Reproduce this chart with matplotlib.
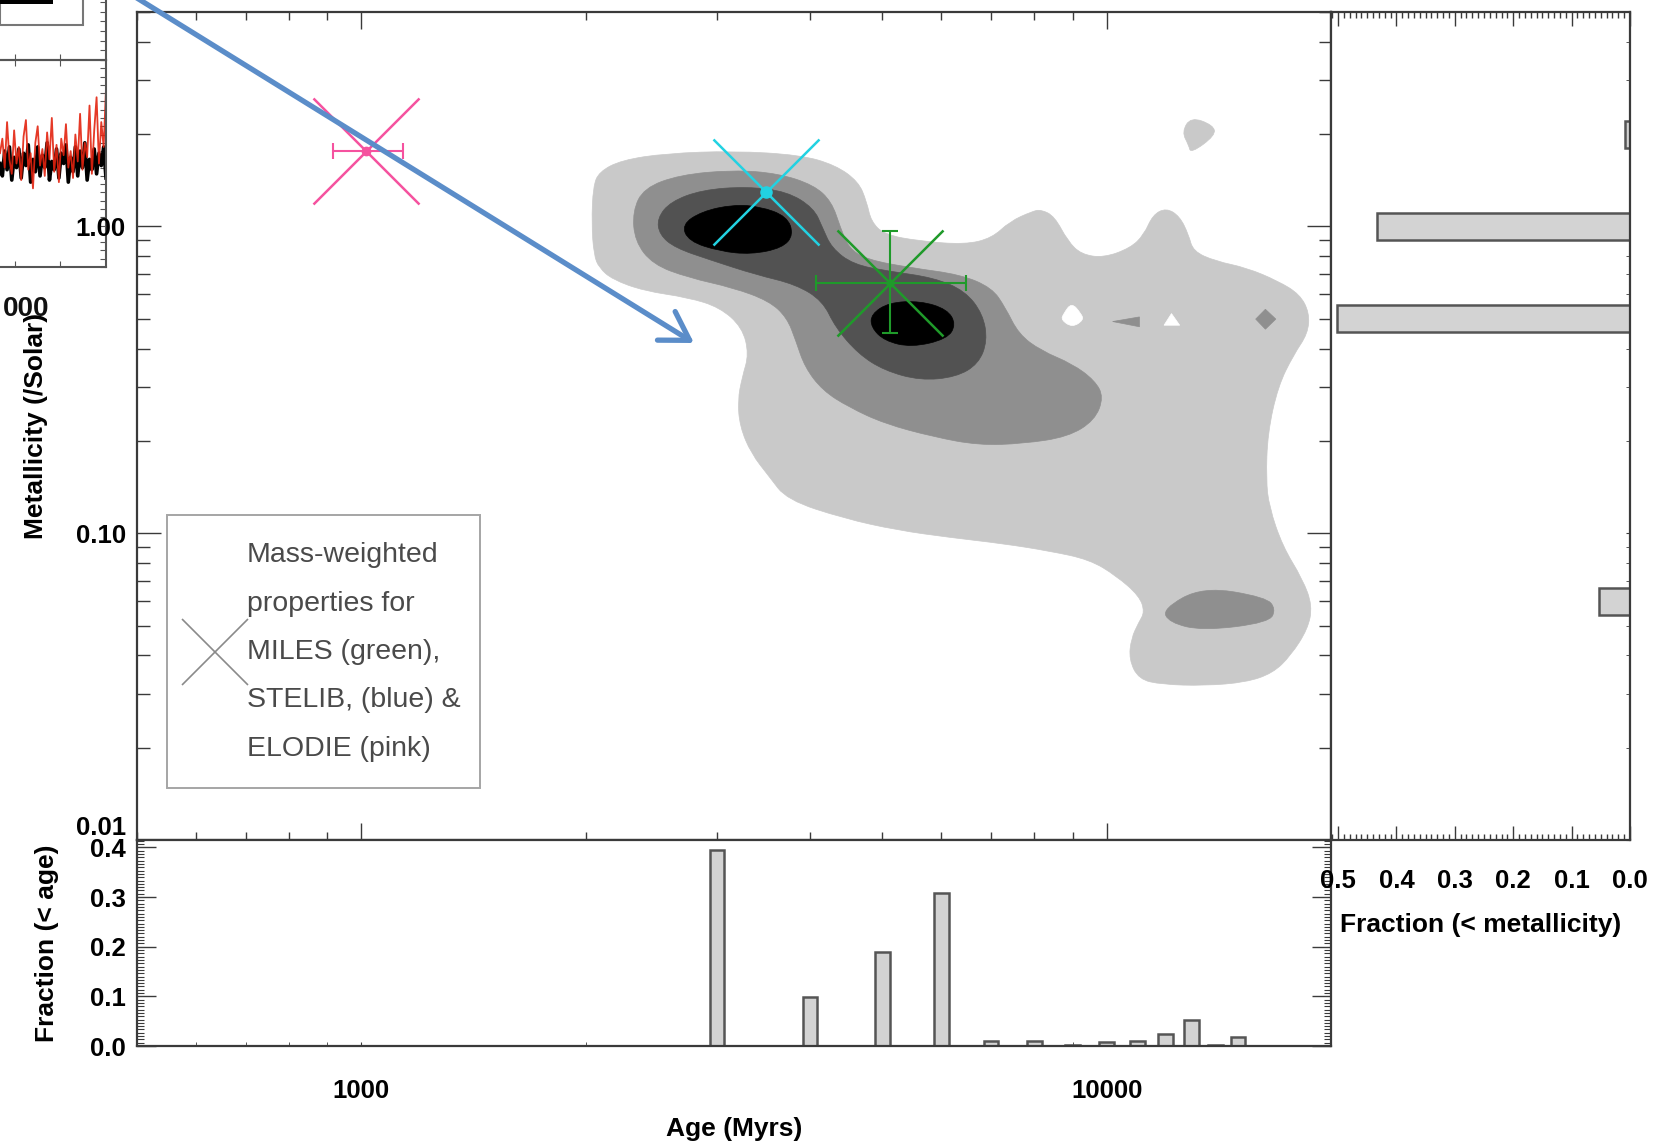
import numpy as np
import matplotlib.pyplot as plt
from matplotlib.patches import Rectangle, FancyArrowPatch, PathPatch
from matplotlib.path import Path
from matplotlib.lines import Line2D
from matplotlib.ticker import (FixedLocator, FuncFormatter, LogLocator,
                               MultipleLocator, NullFormatter)

plt.rcParams['font.family'] = ['Liberation Sans', 'DejaVu Sans']
plt.rcParams['font.weight'] = 'bold'
plt.rcParams['axes.labelweight'] = 'bold'

# ---------------- data ----------------
# age distribution (bottom panel)
age_bins = [3000, 4000, 5000, 6000, 7000, 8000, 9000, 10000, 11000, 12000, 13000, 14000, 15000]
age_frac = [0.395, 0.099, 0.189, 0.308, 0.010, 0.010, 0.002, 0.008, 0.010, 0.024, 0.052, 0.002, 0.018]

# metallicity distribution (right panel)
met_bins = [2.0, 1.0, 0.5, 0.06]
met_frac = [0.009, 0.434, 0.501, 0.053]

# mass-weighted properties per library
elodie_age, elodie_z = 1016, 1.765
elodie_age_err = [[100], [123]]
stelib_age, stelib_z = 3494, 1.297
miles_age, miles_z = 5123, 0.655
miles_age_err = [[1054], [1353]]
miles_z_err = [[0.205], [0.309]]

# density contours, (log10 age, log10 Z/Zsun) outlines
light_outer = [
    (3.311, 0.130), (3.319, 0.178), (3.349, 0.216), (3.409, 0.238), (3.499, 0.246),
    (3.589, 0.233), (3.636, 0.200), (3.667, 0.146), (3.678, 0.081), (3.684, 0.016),
    (3.702, -0.027), (3.750, -0.048), (3.810, -0.059), (3.846, -0.038), (3.870, 0.016),
    (3.900, 0.049), (3.912, 0.055), (3.930, 0.033), (3.948, -0.048), (3.966, -0.091),
    (3.996, -0.102), (4.032, -0.070), (4.050, -0.027), (4.062, 0.038), (4.080, 0.060),
    (4.098, 0.033), (4.110, -0.027), (4.116, -0.081), (4.146, -0.113), (4.188, -0.135),
    (4.230, -0.178), (4.259, -0.221), (4.272, -0.281), (4.270, -0.349), (4.251, -0.418),
    (4.230, -0.521), (4.216, -0.675), (4.214, -0.825), (4.218, -0.913), (4.236, -1.042),
    (4.263, -1.150), (4.276, -1.236), (4.270, -1.312), (4.247, -1.399), (4.223, -1.456),
    (4.187, -1.486), (4.131, -1.497), (4.074, -1.493), (4.043, -1.476), (4.030, -1.411),
    (4.033, -1.343), (4.043, -1.291), (4.051, -1.257), (4.044, -1.205), (4.013, -1.139),
    (3.977, -1.086), (3.923, -1.058), (3.861, -1.034), (3.790, -1.014), (3.719, -0.990),
    (3.648, -0.952), (3.571, -0.891), (3.547, -0.815), (3.523, -0.740), (3.508, -0.653),
    (3.505, -0.567), (3.511, -0.491), (3.520, -0.416), (3.511, -0.329), (3.481, -0.264),
    (3.439, -0.232), (3.379, -0.210), (3.337, -0.173), (3.319, -0.135), (3.312, -0.093),
    (3.309, 0.010),
]
light_island = [(4.113, 0.357), (4.143, 0.330), (4.146, 0.297), (4.113, 0.238),
                (4.110, 0.265), (4.101, 0.308)]
white_drop = [(3.953, -0.248), (3.966, -0.285), (3.969, -0.305), (3.954, -0.329),
              (3.939, -0.305), (3.942, -0.285)]
white_tri = [(4.087, -0.284), (4.098, -0.322), (4.077, -0.322)]
mid_level = [
    (3.364, 0.049), (3.379, 0.125), (3.427, 0.168), (3.499, 0.184), (3.559, 0.173),
    (3.607, 0.135), (3.631, 0.081), (3.643, -0.005), (3.654, -0.070), (3.678, -0.108),
    (3.738, -0.135), (3.804, -0.157), (3.846, -0.200), (3.864, -0.264), (3.882, -0.351),
    (3.912, -0.405), (3.954, -0.448), (3.984, -0.502), (3.996, -0.556), (3.984, -0.632),
    (3.948, -0.686), (3.888, -0.708), (3.828, -0.713), (3.768, -0.686), (3.702, -0.643),
    (3.654, -0.589), (3.619, -0.535), (3.595, -0.459), (3.583, -0.373), (3.571, -0.297),
    (3.547, -0.243), (3.499, -0.200), (3.439, -0.167), (3.391, -0.124), (3.367, -0.048),
]
mid_island = [(4.075, -1.247), (4.129, -1.174), (4.214, -1.209), (4.227, -1.247),
              (4.218, -1.291), (4.129, -1.318), (4.084, -1.291)]
mid_triangle = [(4.008, -0.310), (4.044, -0.295), (4.044, -0.327)]
mid_diamond = [(4.213, -0.270), (4.227, -0.302), (4.213, -0.335), (4.200, -0.302)]
dark_level = [
    (3.397, 0.027), (3.415, 0.081), (3.457, 0.119), (3.517, 0.130), (3.571, 0.114),
    (3.607, 0.060), (3.619, -0.005), (3.631, -0.070), (3.660, -0.124), (3.708, -0.146),
    (3.768, -0.167), (3.810, -0.210), (3.834, -0.286), (3.840, -0.373), (3.828, -0.448),
    (3.798, -0.491), (3.750, -0.502), (3.702, -0.470), (3.667, -0.416), (3.636, -0.329),
    (3.619, -0.243), (3.583, -0.189), (3.529, -0.157), (3.469, -0.110), (3.421, -0.070),
    (3.400, -0.027),
]
peak_a = [(3.430, 0.006), (3.457, 0.049), (3.499, 0.071), (3.535, 0.065), (3.571, 0.033),
          (3.580, -0.027), (3.565, -0.070), (3.523, -0.091), (3.481, -0.081), (3.439, -0.048)]
peak_b = [(3.684, -0.286), (3.708, -0.248), (3.750, -0.243), (3.786, -0.270), (3.798, -0.319),
          (3.786, -0.367), (3.738, -0.394), (3.702, -0.373), (3.684, -0.329)]

# spectrum fragment of the neighbouring slide figure (top left)
red_flux = [0.55, 0.62, 0.48, 0.70, 0.52, 0.45, 0.66, 0.50, 0.58, 0.42, 0.63, 0.71, 0.47, 0.55,
            0.38, 0.60, 0.68, 0.49, 0.57, 0.44, 0.65, 0.52, 0.72, 0.46, 0.59, 0.41, 0.62, 0.54,
            0.69, 0.48, 0.56, 0.43, 0.64, 0.51, 0.74, 0.47, 0.60, 0.53, 0.78, 0.45, 0.66, 0.82,
            0.50, 0.70, 0.58, 0.86]
black_flux = [0.50, 0.44, 0.56, 0.47, 0.58, 0.42, 0.53, 0.48, 0.57, 0.43, 0.55, 0.49, 0.59, 0.41,
              0.52, 0.46, 0.58, 0.44, 0.54, 0.48, 0.60, 0.42, 0.51, 0.47, 0.57, 0.43, 0.55, 0.50,
              0.59, 0.41, 0.53, 0.46, 0.58, 0.44, 0.56, 0.48, 0.60, 0.42, 0.52, 0.47, 0.57, 0.45,
              0.55, 0.49, 0.58, 0.43]

legend_text = "Mass-weighted\nproperties for\nMILES (green),\nSTELIB, (blue) &\nELODIE (pink)"

PINK = '#f5529f'
CYAN = '#22d2e2'
GREEN = '#1f9a2a'
SPINE = '#3a3a3a'


def smooth_outline(poly, color):
    # closed outline drawn with quadratic curves through the edge midpoints
    p = np.array(poly)
    mids = (p + np.roll(p, -1, axis=0)) / 2
    verts = [mids[-1]]
    codes = [Path.MOVETO]
    for i in range(len(p)):
        verts += [p[i], mids[i]]
        codes += [Path.CURVE3, Path.CURVE3]
    verts = 10 ** np.array(verts)
    return PathPatch(Path(verts, codes), facecolor=color, edgecolor=color, lw=0.5, zorder=1)


# ---------------- layout ----------------
W, H = 1657, 1148
fig = plt.figure(figsize=(W / 100, H / 100), dpi=100)
x0, x1, x2 = 137 / W, 1331 / W, 1630 / W
ytop, ymid, ybot = 1 - 12 / H, 1 - 840 / H, 1 - 1046 / H

ax = fig.add_axes([x0, ymid, x1 - x0, ytop - ymid])
axb = fig.add_axes([x0, ybot, x1 - x0, ymid - ybot])
axr = fig.add_axes([x1, ymid, x2 - x1, ytop - ymid])

for a in (ax, axb, axr):
    for s in a.spines.values():
        s.set_color(SPINE)
        s.set_linewidth(1.6)

# ---------------- main panel ----------------
ax.set_xscale('log')
ax.set_yscale('log')
ax.set_xlim(500, 20000)
ax.set_ylim(0.01, 5)

smooth_fills = [(light_outer, '#c9c9c9'), (light_island, '#c9c9c9'),
                (white_drop, 'white'), (mid_level, '#8f8f8f'), (mid_island, '#8f8f8f'),
                (dark_level, '#525252'), (peak_a, 'black'), (peak_b, 'black')]
for poly, col in smooth_fills:
    ax.add_patch(smooth_outline(poly, col))
for poly, col in [(white_tri, 'white'), (mid_triangle, '#8f8f8f'), (mid_diamond, '#8f8f8f')]:
    p = np.array(poly)
    ax.fill(10 ** p[:, 0], 10 ** p[:, 1], color=col, lw=0.5, zorder=1)

# ELODIE
ax.errorbar(elodie_age, elodie_z, xerr=elodie_age_err, fmt='none', ecolor=PINK,
            elinewidth=1.5, capsize=5.5, capthick=1.5, zorder=3)
ax.plot(elodie_age, elodie_z, ls='none', marker='x', ms=76, mew=1.8, color=PINK, zorder=3)
ax.plot(elodie_age, elodie_z, ls='none', marker='o', ms=6, color=PINK, zorder=3)
# STELIB
ax.plot(stelib_age, stelib_z, ls='none', marker='x', ms=76, mew=1.8, color=CYAN, zorder=3)
ax.plot(stelib_age, stelib_z, ls='none', marker='o', ms=8, color=CYAN, zorder=3)
# MILES
ax.errorbar(miles_age, miles_z, xerr=miles_age_err, yerr=miles_z_err, fmt='none',
            ecolor=GREEN, elinewidth=1.5, capsize=6, capthick=1.5, zorder=3)
ax.plot(miles_age, miles_z, ls='none', marker='x', ms=76, mew=1.8, color=GREEN, zorder=3)
ax.plot(miles_age, miles_z, ls='none', marker='o', ms=5, color=GREEN, zorder=3)

# legend box
ax.add_patch(Rectangle((0.0251, 0.0628), 0.2622, 0.3297, transform=ax.transAxes,
                       fill=False, edgecolor='#a5a5a5', lw=1.4, zorder=4))
ax.add_line(Line2D([0.0657], [0.2271], transform=ax.transAxes, ls='none', marker='x',
                   ms=47, mew=1.2, color='#8a8a8a', zorder=4))
ax.text(0.0921, 0.2271, legend_text, transform=ax.transAxes, ha='left', va='center',
        fontsize=20.5, fontweight='normal', color='#4a4a4a', linespacing=2.12, zorder=4)

ax.xaxis.set_major_locator(FixedLocator([1000, 10000]))
ax.xaxis.set_minor_locator(LogLocator(base=10, subs=np.arange(2, 10), numticks=20))
ax.xaxis.set_minor_formatter(NullFormatter())
ax.tick_params(axis='x', which='both', direction='in', top=True, bottom=True,
               labelbottom=False, color=SPINE, width=1)
ax.tick_params(axis='x', which='major', length=12)
ax.tick_params(axis='x', which='minor', length=6)
ax.yaxis.set_major_locator(FixedLocator([0.01, 0.1, 1.0]))
ax.yaxis.set_major_formatter(FuncFormatter(lambda v, p: '%.2f' % v))
ax.yaxis.set_minor_locator(LogLocator(base=10, subs=np.arange(2, 10), numticks=20))
ax.yaxis.set_minor_formatter(NullFormatter())
ax.tick_params(axis='y', which='both', direction='in', left=True, right=True,
               color=SPINE, width=1)
ax.tick_params(axis='y', which='major', length=17, pad=8, labelsize=18.5)
ax.tick_params(axis='y', which='minor', length=9)
ax.yaxis.get_major_ticks()[0].label1.set_va('bottom')
ax.set_ylabel('Metallicity (/Solar)', fontsize=19, labelpad=20)

# ---------------- bottom panel: age fractions ----------------
axb.set_xscale('log')
axb.set_xlim(500, 20000)
axb.set_ylim(0, 0.415)
bw = 0.0195  # bar width in dex
ab = np.array(age_bins, dtype=float)
lo = ab * 10 ** (-bw / 2)
hi = ab * 10 ** (bw / 2)
axb.bar(lo, age_frac, width=hi - lo, align='edge', color='#d3d3d3',
        edgecolor='#555555', linewidth=1.8, zorder=2)
axb.xaxis.set_major_locator(FixedLocator([1000, 10000]))
axb.xaxis.set_major_formatter(FuncFormatter(lambda v, p: '%d' % v))
axb.xaxis.set_minor_locator(LogLocator(base=10, subs=np.arange(2, 10), numticks=20))
axb.xaxis.set_minor_formatter(NullFormatter())
axb.tick_params(axis='x', which='both', direction='in', top=False, bottom=True,
                length=3, pad=24, labelsize=18.5, color=SPINE)
axb.yaxis.set_major_locator(MultipleLocator(0.1))
axb.yaxis.set_major_formatter(FuncFormatter(lambda v, p: '%.1f' % v))
axb.yaxis.set_minor_locator(MultipleLocator(0.1 / 15))
axb.tick_params(axis='y', which='both', direction='in', left=True, right=True, color=SPINE)
axb.tick_params(axis='y', which='major', length=14, width=1, pad=8, labelsize=18.5)
axb.tick_params(axis='y', which='minor', length=5, width=0.8)
axb.yaxis.get_major_ticks()[0].label1.set_va('bottom')
axb.set_xlabel('Age (Myrs)', fontsize=19, labelpad=10)
axb.set_ylabel('Fraction (< age)', fontsize=19, labelpad=22)

# ---------------- right panel: metallicity fractions ----------------
axr.set_yscale('log')
axr.set_ylim(0.01, 5)
axr.set_xlim(0.512, 0.0)
bh = 0.0875  # bar thickness in dex
mb = np.array(met_bins)
zlo = mb * 10 ** (-bh / 2)
zhi = mb * 10 ** (bh / 2)
axr.barh(zlo, met_frac, height=zhi - zlo, align='edge', color='#d3d3d3',
         edgecolor='#555555', linewidth=1.8, zorder=2)
axr.xaxis.set_major_locator(MultipleLocator(0.1))
axr.xaxis.set_major_formatter(FuncFormatter(lambda v, p: '%.1f' % abs(v)))
axr.xaxis.set_minor_locator(MultipleLocator(0.01))
axr.tick_params(axis='x', which='both', direction='in', top=True, bottom=True,
                color=SPINE, width=1)
axr.tick_params(axis='x', which='major', length=10, pad=21, labelsize=18.5)
axr.tick_params(axis='x', which='minor', length=4)
axr.yaxis.set_major_locator(FixedLocator([0.01, 0.1, 1.0]))
axr.yaxis.set_minor_locator(LogLocator(base=10, subs=np.arange(2, 10), numticks=20))
axr.yaxis.set_minor_formatter(NullFormatter())
axr.tick_params(axis='y', which='both', direction='in', left=False, right=True,
                labelleft=False, length=3, color=SPINE)
axr.set_xlabel('Fraction (< metallicity)', fontsize=19, labelpad=14)

# ---------------- fragment of the neighbouring figure ----------------
fa = fig.add_axes([0.0, 1 - 267 / H, 106 / W, 207 / H], zorder=-1)
fa.plot(np.arange(len(black_flux)), black_flux, color='black', lw=2.6)
fa.plot(np.arange(len(red_flux)), red_flux, color='#e3230f', lw=1.3, alpha=0.9)
fa.set_xlim(0, len(red_flux) - 1)
fa.set_ylim(0, 1)
fa.spines['left'].set_visible(False)
for s in ('top', 'right', 'bottom'):
    fa.spines[s].set_color('#555555')
    fa.spines[s].set_linewidth(1.5)
fa.set_xticks([6.4, 25.5])
fa.yaxis.set_major_locator(MultipleLocator(0.04))
fa.tick_params(which='both', direction='in', top=True, bottom=True, left=False, right=True,
               labelbottom=False, labelleft=False, length=4, color='#555555')
fa.patch.set_alpha(0)

fu = fig.add_axes([0.0, 1 - 60 / H, 106 / W, 0.07], zorder=-1)
fu.set_xlim(0, 1)
fu.set_ylim(0, 1)
fu.spines['left'].set_visible(False)
fu.spines['top'].set_visible(False)
for s in ('right', 'bottom'):
    fu.spines[s].set_color('#555555')
    fu.spines[s].set_linewidth(1.5)
fu.set_xticks([0.14, 0.57])
fu.yaxis.set_major_locator(MultipleLocator(0.12))
fu.tick_params(direction='in', bottom=True, left=False, right=True, labelbottom=False,
               labelleft=False, length=4, color='#555555')
fu.patch.set_alpha(0)
fig.add_artist(Rectangle((0, 1 - 25 / H), 83 / W, 25 / H + 0.01, transform=fig.transFigure,
                         fill=False, edgecolor='#777777', lw=1.5))
fig.add_artist(Rectangle((0, 1 - 4 / H), 53 / W, 4 / H, transform=fig.transFigure,
                         color='black', lw=0))
# visible part of the fragment's tick label
fig.text(49 / W, 1 - 309 / H, '000', ha='right', va='center', fontsize=20, color='#111111')

# ---------------- slide arrow ----------------
arrow = FancyArrowPatch((124 / W, 1158 / H), (694 / W, 805 / H), transform=fig.transFigure,
                        arrowstyle='->,head_length=0.9,head_width=0.55', mutation_scale=22,
                        lw=3.8, color='#5b8dc9', shrinkA=0, shrinkB=0, zorder=10)
fig.add_artist(arrow)

fig.savefig('out.png', dpi=100)
